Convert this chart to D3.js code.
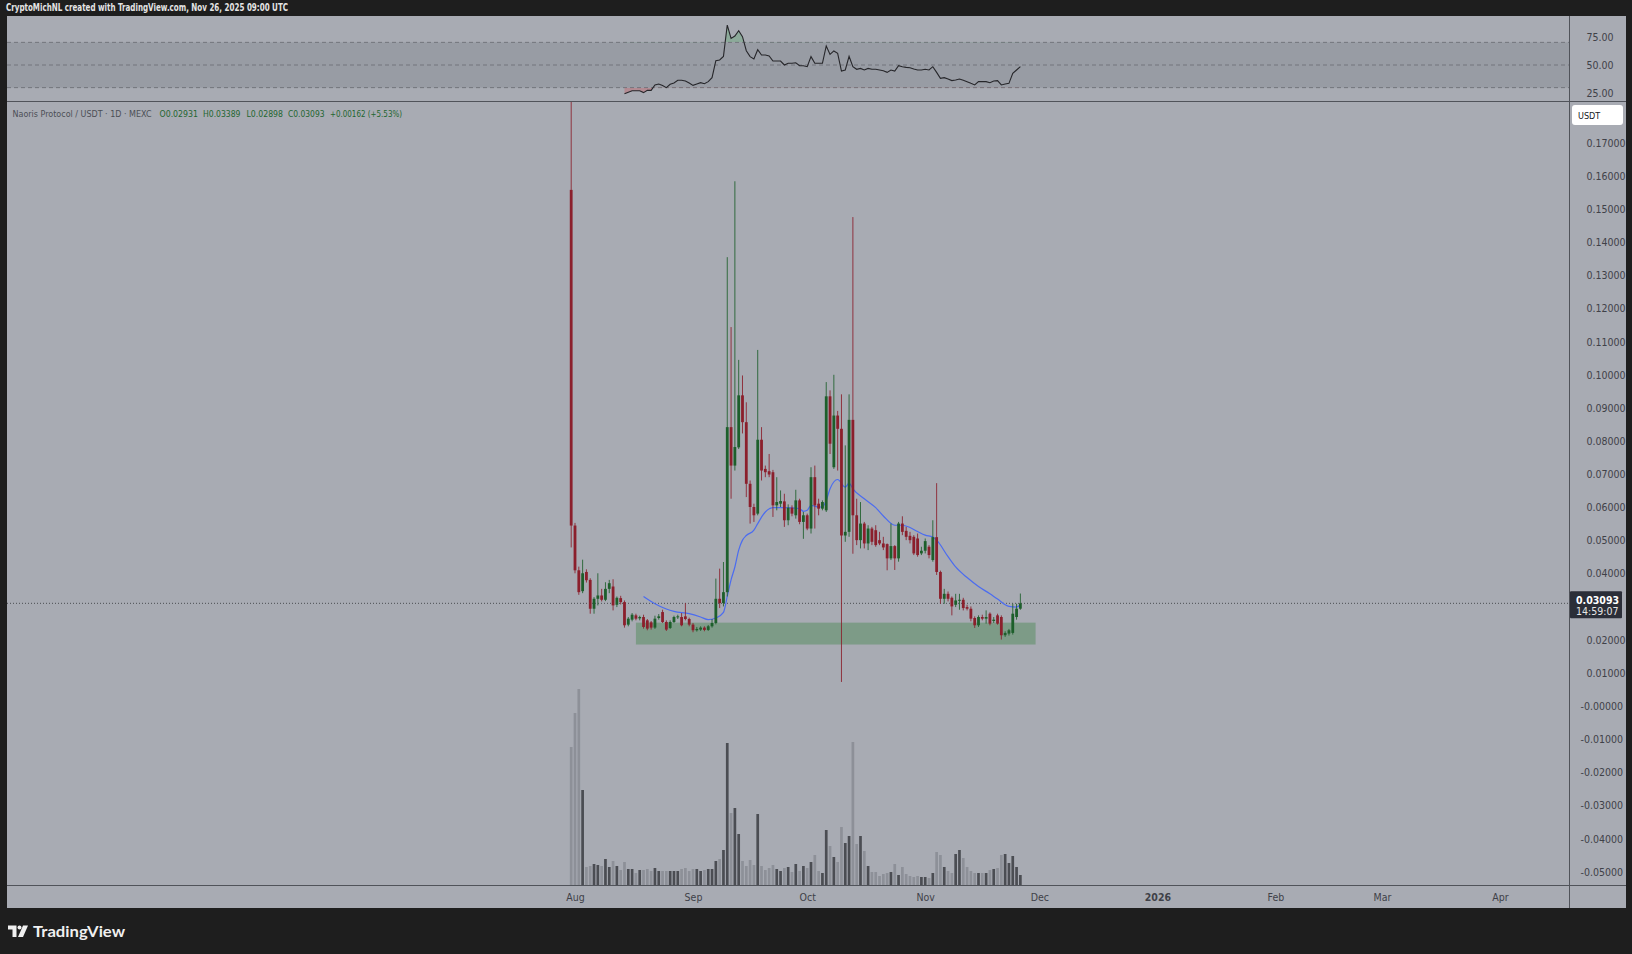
<!DOCTYPE html>
<html>
<head>
<meta charset="utf-8">
<script src="https://cdnjs.cloudflare.com/ajax/libs/d3/7.8.5/d3.min.js"></script>
<style>
    html, body { margin: 0; padding: 0; background: #1e1e1e; overflow: hidden; }
    svg { display: block; }
    text { font-family: "Liberation Sans Narrow", "DejaVu Sans Condensed", Roboto, sans-serif; }
</style>
</head>
<body>
<div id="chart"></div>
<script>
// ---- data (daily candles, Jul 31 -> Nov 26 2025) ----
const firstDay = Date.UTC(2025, 6, 31);
const lastDay = Date.UTC(2025, 10, 26);

const opens = [
    0.1557, 0.0544, 0.0409, 0.0346, 0.0404, 0.0380, 0.0293, 0.0323, 0.0333, 0.0320,
    0.0353, 0.0360, 0.0305, 0.0325, 0.0313, 0.0245, 0.0260, 0.0273, 0.0264, 0.0268,
    0.0258, 0.0252, 0.0236, 0.0265, 0.0283, 0.0253, 0.0235, 0.0253, 0.0267, 0.0268,
    0.0270, 0.0262, 0.0245, 0.0228, 0.0230, 0.0236, 0.0229, 0.0240, 0.0250, 0.0323,
    0.0310, 0.0343, 0.0841, 0.0725, 0.0780, 0.0937, 0.0856, 0.0670, 0.0600, 0.0580,
    0.0803, 0.0715, 0.0708, 0.0705, 0.0605, 0.0610, 0.0617, 0.0560, 0.0598, 0.0575,
    0.0620, 0.0555, 0.0575, 0.0535, 0.0690, 0.0610, 0.0595, 0.0590, 0.0934, 0.0720,
    0.0876, 0.0836, 0.0514, 0.0525, 0.0863, 0.0575, 0.0500, 0.0550, 0.0490, 0.0535,
    0.0530, 0.0500, 0.0490, 0.0488, 0.0445, 0.0482, 0.0445, 0.0550, 0.0528, 0.0513,
    0.0510, 0.0505, 0.0460, 0.0468, 0.0480, 0.0440, 0.0509, 0.0404, 0.0323, 0.0338,
    0.0326, 0.0305, 0.0318, 0.0320, 0.0298, 0.0293, 0.0265, 0.0243, 0.0268, 0.0263,
    0.0278, 0.0256, 0.0273, 0.0268, 0.0213, 0.0218, 0.0220, 0.0268, 0.02931
];
const highs = [
    0.1900, 0.0552, 0.0420, 0.0441, 0.0412, 0.0385, 0.0328, 0.0400, 0.0353, 0.0373,
    0.0380, 0.0382, 0.0330, 0.0332, 0.0318, 0.0268, 0.0280, 0.0278, 0.0272, 0.0275,
    0.0262, 0.0256, 0.0272, 0.0277, 0.0290, 0.0258, 0.0258, 0.0272, 0.0275, 0.0280,
    0.0310, 0.0266, 0.0250, 0.0238, 0.0240, 0.0240, 0.0244, 0.0262, 0.0384, 0.0414,
    0.0434, 0.1354, 0.1143, 0.1583, 0.1044, 0.0997, 0.0916, 0.0680, 0.0610, 0.1074,
    0.0841, 0.0725, 0.0760, 0.0712, 0.0690, 0.0650, 0.0640, 0.0608, 0.0605, 0.0652,
    0.0625, 0.0585, 0.0580, 0.0720, 0.0725, 0.0625, 0.0620, 0.0977, 0.0952, 0.0999,
    0.0890, 0.0940, 0.0786, 0.0940, 0.1475, 0.0625, 0.0615, 0.0555, 0.0545, 0.0540,
    0.0545, 0.0525, 0.0510, 0.0490, 0.0550, 0.0485, 0.0555, 0.0572, 0.0540, 0.0525,
    0.0515, 0.0520, 0.0480, 0.0505, 0.0485, 0.0560, 0.0672, 0.0408, 0.0353, 0.0345,
    0.0330, 0.0338, 0.0338, 0.0326, 0.0305, 0.0300, 0.0270, 0.0273, 0.0275, 0.0288,
    0.0282, 0.0268, 0.0278, 0.0273, 0.0225, 0.0232, 0.0308, 0.0308, 0.03389
];
const lows = [
    0.0478, 0.0400, 0.0335, 0.0340, 0.0372, 0.0278, 0.0278, 0.0303, 0.0315, 0.0316,
    0.0340, 0.0288, 0.0298, 0.0306, 0.0236, 0.0240, 0.0255, 0.0258, 0.0258, 0.0233,
    0.0228, 0.0230, 0.0232, 0.0260, 0.0250, 0.0226, 0.0232, 0.0250, 0.0262, 0.0240,
    0.0258, 0.0240, 0.0222, 0.0224, 0.0226, 0.0225, 0.0226, 0.0236, 0.0246, 0.0295,
    0.0300, 0.0330, 0.0625, 0.0710, 0.0775, 0.0822, 0.0630, 0.0550, 0.0555, 0.0575,
    0.0680, 0.0690, 0.0690, 0.0570, 0.0590, 0.0600, 0.0540, 0.0545, 0.0572, 0.0565,
    0.0548, 0.0504, 0.0530, 0.0520, 0.0535, 0.0575, 0.0590, 0.0585, 0.0760, 0.0715,
    0.0710, 0.0072, 0.0495, 0.0510, 0.0459, 0.0485, 0.0475, 0.0475, 0.0470, 0.0485,
    0.0480, 0.0485, 0.0470, 0.0409, 0.0440, 0.0410, 0.0435, 0.0515, 0.0500, 0.0490,
    0.0455, 0.0450, 0.0455, 0.0460, 0.0445, 0.0435, 0.0395, 0.0308, 0.0308, 0.0315,
    0.0273, 0.0298, 0.0290, 0.0288, 0.0288, 0.0255, 0.0235, 0.0238, 0.0258, 0.0248,
    0.0243, 0.0250, 0.0245, 0.0200, 0.0208, 0.0212, 0.0215, 0.0260, 0.02898
];
const closes = [
    0.0544, 0.0409, 0.0343, 0.0400, 0.0379, 0.0293, 0.0323, 0.0333, 0.0320, 0.0353,
    0.0370, 0.0303, 0.0326, 0.0313, 0.0243, 0.0263, 0.0275, 0.0263, 0.0268, 0.0238,
    0.0233, 0.0236, 0.0263, 0.0270, 0.0253, 0.0230, 0.0253, 0.0268, 0.0270, 0.0243,
    0.0262, 0.0245, 0.0228, 0.0232, 0.0236, 0.0229, 0.0240, 0.0250, 0.0323, 0.0310,
    0.0343, 0.0841, 0.0725, 0.0781, 0.0937, 0.0856, 0.0670, 0.0600, 0.0575, 0.0803,
    0.0710, 0.0705, 0.0698, 0.0605, 0.0615, 0.0618, 0.0560, 0.0598, 0.0580, 0.0620,
    0.0555, 0.0575, 0.0535, 0.0690, 0.0605, 0.0595, 0.0615, 0.0934, 0.0791, 0.0876,
    0.0836, 0.0514, 0.0525, 0.0863, 0.0575, 0.0500, 0.0550, 0.0490, 0.0535, 0.0495,
    0.0485, 0.0490, 0.0478, 0.0445, 0.0482, 0.0445, 0.0550, 0.0525, 0.0510, 0.0500,
    0.0460, 0.0455, 0.0468, 0.0497, 0.0455, 0.0509, 0.0404, 0.0323, 0.0338, 0.0323,
    0.0300, 0.0318, 0.0320, 0.0295, 0.0293, 0.0263, 0.0243, 0.0268, 0.0263, 0.0268,
    0.0248, 0.0260, 0.0248, 0.0213, 0.0220, 0.0228, 0.0278, 0.02931, 0.03093
];
// volume, millions of tokens (relative)
const volumes = [
    138, 172, 196, 95, 18, 19, 21, 20, 19, 26,
    18, 24, 19, 15, 23, 16, 16, 12, 15, 15,
    16, 14, 17, 14, 14, 14, 14, 14, 14, 16,
    17, 14, 16, 16, 14, 15, 16, 16, 24, 26,
    35, 142, 72, 77, 51, 24, 19, 25, 20, 71,
    19, 15, 17, 20, 16, 14, 17, 18, 13, 21,
    14, 19, 17, 23, 30, 14, 12, 55, 39, 28,
    23, 58, 42, 49, 143, 41, 49, 34, 19, 13,
    13, 9, 11, 12, 13, 21, 10, 18, 11, 9,
    8, 9, 8, 8, 7, 12, 33, 30, 18, 14,
    12, 31, 35, 27, 18, 14, 12, 12, 12, 12,
    15, 16, 17, 30, 31, 22, 29, 18, 10
];
// RSI(14), first 14 days have no value
const rsiValues = [
    null, null, null, null, null, null, null, null, null, null,
    null, null, null, null, 24.5, 26.0, 27.2, 27.2, 27.2, 25.6,
    27.6, 27.6, 32.4, 33.2, 31.8, 30.0, 33.0, 34.1, 36.5, 36.5,
    35.9, 34.1, 32.0, 33.2, 34.4, 33.5, 35.3, 38.8, 53.8, 54.4,
    57.6, 85.3, 73.5, 75.6, 80.3, 75.0, 62.6, 57.4, 55.3, 63.5,
    58.8, 58.8, 58.0, 53.5, 53.5, 53.5, 50.0, 51.5, 51.5, 52.0,
    49.4, 49.4, 48.5, 57.4, 51.5, 51.5, 51.5, 66.8, 59.4, 62.4,
    60.3, 44.7, 45.6, 57.6, 48.5, 46.2, 47.0, 45.6, 47.0, 46.2,
    46.2, 45.6, 45.0, 43.5, 45.6, 44.7, 49.4, 48.5, 47.9, 47.6,
    46.5, 45.6, 45.6, 46.2, 45.6, 48.5, 43.5, 38.2, 38.8, 37.6,
    36.2, 36.8, 37.6, 36.5, 35.3, 33.8, 32.4, 35.3, 35.3, 35.3,
    34.4, 35.9, 36.2, 32.4, 33.2, 33.8, 42.6, 45.6, 48.5
];
// 20-day moving average
const maDates = [
    "2025-08-19", "2025-08-22", "2025-08-25", "2025-08-27", "2025-08-31", "2025-09-03",
    "2025-09-05", "2025-09-07", "2025-09-09", "2025-09-10", "2025-09-11", "2025-09-12",
    "2025-09-13", "2025-09-14", "2025-09-15", "2025-09-17", "2025-09-18", "2025-09-20",
    "2025-09-22", "2025-09-25", "2025-09-29", "2025-09-30", "2025-10-01", "2025-10-02",
    "2025-10-04", "2025-10-05", "2025-10-06", "2025-10-07", "2025-10-09", "2025-10-11",
    "2025-10-12", "2025-10-13", "2025-10-16", "2025-10-19", "2025-10-21", "2025-10-24",
    "2025-10-26", "2025-10-28", "2025-10-30", "2025-11-01", "2025-11-03", "2025-11-04",
    "2025-11-07", "2025-11-09", "2025-11-12", "2025-11-15", "2025-11-18", "2025-11-20",
    "2025-11-23", "2025-11-25", "2025-11-26"
];
const maValues = [
    0.0330, 0.0308, 0.0292, 0.0285, 0.0278, 0.0268,
    0.0260, 0.0265, 0.0282, 0.0330, 0.0380, 0.0419,
    0.0470, 0.0500, 0.0514, 0.0530, 0.0550, 0.0585,
    0.0598, 0.0598, 0.0595, 0.0587, 0.0590, 0.0605,
    0.0600, 0.0600, 0.0620, 0.0655, 0.0683, 0.0660,
    0.0672, 0.0655, 0.0625, 0.0598, 0.0573, 0.0545,
    0.0545, 0.0538, 0.0526, 0.0515, 0.0509, 0.0500,
    0.0450, 0.0419, 0.0387, 0.0360, 0.0338, 0.0322,
    0.0300, 0.0298, 0.0305
];
// support zone drawn on the chart
const zoneDates = ["2025-08-17", "2025-11-30"];
const zonePrices = [0.0185, 0.0251];

const lastPrice = 0.03093;
const countdown = "14:59:07";

const priceTicks = [0.17, 0.16, 0.15, 0.14, 0.13, 0.12, 0.11, 0.10, 0.09, 0.08, 0.07, 0.06,
    0.05, 0.04, 0.03, 0.02, 0.01, 0, -0.01, -0.02, -0.03, -0.04, -0.05].filter(v => Math.abs(v - 0.03) > 1e-9);
const rsiTicks = [75, 50, 25];
const rsiLevels = [70, 50, 30];
const monthTicks = ["2025-08-01", "2025-09-01", "2025-10-01", "2025-11-01", "2025-12-01",
    "2026-01-01", "2026-02-01", "2026-03-01", "2026-04-01"];
const monthLabels = ["Aug", "Sep", "Oct", "Nov", "Dec", "2026", "Feb", "Mar", "Apr"];

const headerText = "CryptoMichNL created with TradingView.com, Nov 26, 2025 09:00 UTC";
const symbolText = "Naoris Protocol / USDT \u00b7 1D \u00b7 MEXC";
const ohlcText = ["O0.02931", "H0.03389", "L0.02898", "C0.03093", "+0.00162 (+5.53%)"];

// ---- layout ----
const W = 1632, H = 954;
const frame = { left: 7, right: 1626, top: 16, bottom: 908 };
const axisX = 1569;          // price axis separator
const rsiBottom = 101;       // indicator pane separator
const timeTop = 885;         // time axis separator

const upColor = "#1d5f2b", downColor = "#8b1f2c";
const bg = "#a8abb3";

const parse = d3.utcParse("%Y-%m-%d");
const days = d3.utcDay.range(new Date(firstDay), d3.utcDay.offset(new Date(lastDay), 1));
const candles = days.map((d, i) => ({
    date: d, o: opens[i], h: highs[i], l: lows[i], c: closes[i], v: volumes[i], rsi: rsiValues[i]
}));

const x = d3.scaleUtc()
    .domain([parse("2025-08-01"), parse("2026-04-01")])
    .range([575, 1500]);
const y = d3.scaleLinear().domain([0.17, -0.05]).range([142.5, 871.5]);
const yVol = d3.scaleLinear().domain([0, 200]).range([timeTop, timeTop - 200]);
const yRsi = d3.scaleLinear().domain([25, 75]).range([93.3, 36.7]);

const svg = d3.select("#chart").append("svg")
    .attr("width", W).attr("height", H);

svg.append("rect").attr("width", W).attr("height", H).attr("fill", "#1e1e1e");
svg.append("rect")
    .attr("x", frame.left).attr("y", frame.top)
    .attr("width", frame.right - frame.left).attr("height", frame.bottom - frame.top)
    .attr("fill", bg);

const defs = svg.append("defs");
defs.append("clipPath").attr("id", "clip-main").append("rect")
    .attr("x", frame.left).attr("y", rsiBottom + 1)
    .attr("width", axisX - frame.left).attr("height", timeTop - rsiBottom - 1);
defs.append("clipPath").attr("id", "clip-rsi").append("rect")
    .attr("x", frame.left).attr("y", frame.top)
    .attr("width", axisX - frame.left).attr("height", rsiBottom - frame.top);
defs.append("clipPath").attr("id", "clip-ob").append("rect")
    .attr("x", frame.left).attr("y", frame.top)
    .attr("width", axisX - frame.left).attr("height", yRsi(70) - frame.top);
defs.append("clipPath").attr("id", "clip-os").append("rect")
    .attr("x", frame.left).attr("y", yRsi(30))
    .attr("width", axisX - frame.left).attr("height", rsiBottom - yRsi(30));

// ---- RSI pane ----
const rsiG = svg.append("g").attr("clip-path", "url(#clip-rsi)");
rsiG.append("rect")
    .attr("x", frame.left).attr("width", axisX - frame.left)
    .attr("y", yRsi(70)).attr("height", yRsi(30) - yRsi(70))
    .attr("fill", "#989ca4");
rsiG.selectAll("line.level").data(rsiLevels).enter().append("line")
    .attr("class", "level")
    .attr("x1", frame.left).attr("x2", axisX)
    .attr("y1", d => yRsi(d)).attr("y2", d => yRsi(d))
    .attr("stroke", "#72757c").attr("stroke-width", 1).attr("stroke-dasharray", "4,3");

const rsiData = candles.filter(d => d.rsi != null);
rsiG.append("path").datum(rsiData)
    .attr("clip-path", "url(#clip-ob)")
    .attr("fill", "rgba(90,170,110,0.35)")
    .attr("d", d3.area().x(d => x(d.date)).y0(yRsi(70)).y1(d => yRsi(d.rsi)));
rsiG.append("path").datum(rsiData)
    .attr("clip-path", "url(#clip-os)")
    .attr("fill", "rgba(200,80,90,0.35)")
    .attr("d", d3.area().x(d => x(d.date)).y0(yRsi(30)).y1(d => yRsi(d.rsi)));
rsiG.append("path").datum(rsiData)
    .attr("fill", "none").attr("stroke", "#26262a").attr("stroke-width", 1.1)
    .attr("d", d3.line().x(d => x(d.date)).y(d => yRsi(d.rsi)));

// ---- main pane ----
const main = svg.append("g").attr("clip-path", "url(#clip-main)");

main.append("rect")
    .attr("x", x(parse(zoneDates[0]))).attr("width", x(parse(zoneDates[1])) - x(parse(zoneDates[0])))
    .attr("y", y(zonePrices[1])).attr("height", y(zonePrices[0]) - y(zonePrices[1]))
    .attr("fill", "#7d9b87");

main.selectAll("rect.vol").data(candles).enter().append("rect")
    .attr("class", "vol")
    .attr("x", d => x(d.date) - 1.35).attr("width", 2.7)
    .attr("y", d => yVol(d.v)).attr("height", d => timeTop - yVol(d.v))
    .attr("fill", d => d.c >= d.o ? "#4b4d53" : "#8d9098");

main.append("line")
    .attr("x1", frame.left).attr("x2", axisX)
    .attr("y1", y(lastPrice)).attr("y2", y(lastPrice))
    .attr("stroke", "#4a4c52").attr("stroke-width", 1).attr("stroke-dasharray", "1,2");

const maPts = maDates.map((d, i) => ({ date: parse(d), v: maValues[i] }));
main.append("path").datum(maPts)
    .attr("fill", "none").attr("stroke", "#4b6cf0").attr("stroke-width", 1.2)
    .attr("d", d3.line().curve(d3.curveMonotoneX).x(d => x(d.date)).y(d => y(d.v)));

const candle = main.selectAll("g.candle").data(candles).enter().append("g").attr("class", "candle");
candle.append("rect")
    .attr("x", d => x(d.date) - 0.5).attr("width", 1)
    .attr("y", d => y(d.h)).attr("height", d => y(d.l) - y(d.h))
    .attr("fill", d => d.c >= d.o ? upColor : downColor)
    .attr("opacity", 0.85);
candle.append("rect")
    .attr("x", d => x(d.date) - 1.4).attr("width", 2.8)
    .attr("y", d => y(Math.max(d.o, d.c)))
    .attr("height", d => Math.max(1, Math.abs(y(d.o) - y(d.c))))
    .attr("fill", d => d.c >= d.o ? upColor : downColor);

// ---- frame lines ----
const lineColor = "#50535a";
svg.append("line").attr("x1", axisX + 0.5).attr("x2", axisX + 0.5)
    .attr("y1", frame.top).attr("y2", frame.bottom).attr("stroke", lineColor);
svg.append("line").attr("x1", frame.left).attr("x2", frame.right)
    .attr("y1", rsiBottom + 0.5).attr("y2", rsiBottom + 0.5).attr("stroke", lineColor);
svg.append("line").attr("x1", frame.left).attr("x2", frame.right)
    .attr("y1", timeTop + 0.5).attr("y2", timeTop + 0.5).attr("stroke", lineColor);

// ---- price axis ----
const fmtPrice = v => (v > 1e-9 ? "" : "-") + d3.format(".5f")(Math.abs(v));
const priceAxis = svg.append("g")
    .attr("transform", `translate(${axisX},0)`)
    .call(d3.axisRight(y).tickValues(priceTicks).tickSize(0).tickPadding(0).tickFormat(fmtPrice));
priceAxis.select(".domain").remove();
priceAxis.selectAll("text")
    .attr("x", d => d > 1e-9 ? 17.5 : 11.5)
    .attr("dy", "0.35em")
    .attr("fill", "#3f4148").attr("font-size", 10.5)
    .style("font-family", "'Liberation Sans Narrow', 'DejaVu Sans Condensed', Roboto, sans-serif");

const rsiAxis = svg.append("g")
    .attr("transform", `translate(${axisX},0)`)
    .call(d3.axisRight(yRsi).tickValues(rsiTicks).tickSize(0).tickPadding(0).tickFormat(d3.format(".2f")));
rsiAxis.select(".domain").remove();
rsiAxis.selectAll("text")
    .attr("x", 17.5).attr("dy", "0.35em")
    .attr("fill", "#3f4148").attr("font-size", 10.5)
    .style("font-family", "'Liberation Sans Narrow', 'DejaVu Sans Condensed', Roboto, sans-serif");

// currency badge
svg.append("rect").attr("x", 1572).attr("y", 105).attr("width", 51).attr("height", 20)
    .attr("rx", 3).attr("fill", "#ffffff");
svg.append("text").attr("x", 1578).attr("y", 118.5).text("USDT")
    .attr("font-size", 9).attr("fill", "#131722");

// last price badge
const yl = y(lastPrice);
svg.append("rect").attr("x", 1570).attr("y", yl - 12).attr("width", 52).attr("height", 27)
    .attr("rx", 1).attr("fill", "#2b2e38");
svg.append("text").attr("x", 1576).attr("y", yl + 0.5).text(fmtPrice(lastPrice))
    .attr("font-size", 10.5).attr("font-weight", "bold").attr("fill", "#ffffff");
svg.append("text").attr("x", 1576).attr("y", yl + 11.5).text(countdown)
    .attr("font-size", 10.5).attr("fill", "#e6e6e6");

// ---- time axis ----
const timeAxis = svg.append("g")
    .attr("transform", `translate(0,${timeTop})`)
    .call(d3.axisBottom(x).tickValues(monthTicks.map(parse)).tickSize(0).tickPadding(0)
        .tickFormat((d, i) => monthLabels[i]));
timeAxis.select(".domain").remove();
timeAxis.selectAll("text")
    .attr("y", 15.5).attr("dy", 0)
    .attr("fill", "#3f4148").attr("font-size", 10.5)
    .attr("font-weight", (d, i) => monthLabels[i] === "2026" ? "bold" : "normal")
    .style("font-family", "'Liberation Sans Narrow', 'DejaVu Sans Condensed', Roboto, sans-serif");

// ---- texts ----
svg.append("text").attr("x", 6).attr("y", 10.5).text(headerText)
    .attr("font-size", 10.5).attr("font-weight", "bold").attr("fill", "#e4e4e4")
    .attr("textLength", 282).attr("lengthAdjust", "spacingAndGlyphs");

svg.append("text").attr("x", 12.5).attr("y", 116.5).text(symbolText)
    .attr("font-size", 9).attr("fill", "#4c4f56")
    .attr("textLength", 139).attr("lengthAdjust", "spacingAndGlyphs");
const ohlcX = [159.5, 203, 246.5, 288, 330];
const ohlcW = [38.5, 37.5, 36.5, 36.5, 72];
ohlcText.forEach((t, i) => {
    svg.append("text").attr("x", ohlcX[i]).attr("y", 116.5).text(t)
        .attr("font-size", 9.5).attr("fill", "#1f6630")
        .attr("textLength", ohlcW[i]).attr("lengthAdjust", "spacingAndGlyphs");
});

// watermark
const logo = svg.append("g").attr("fill", "#f0f0f0");
logo.append("path").attr("d", "M8,925.5 h8.5 v11.5 h-4 v-7.5 h-4.5 z");
logo.append("circle").attr("cx", 19.5).attr("cy", 927.5).attr("r", 2);
logo.append("path").attr("d", "M23,925.5 h5 l-5,11.5 h-5 z");
svg.append("text").attr("x", 33).attr("y", 937).text("TradingView")
    .attr("font-size", 15.5).attr("font-weight", "bold").attr("fill", "#f0f0f0")
    .style("font-family", "Lato, Inter, sans-serif")
    .attr("textLength", 92).attr("lengthAdjust", "spacingAndGlyphs");
</script>
</body>
</html>
